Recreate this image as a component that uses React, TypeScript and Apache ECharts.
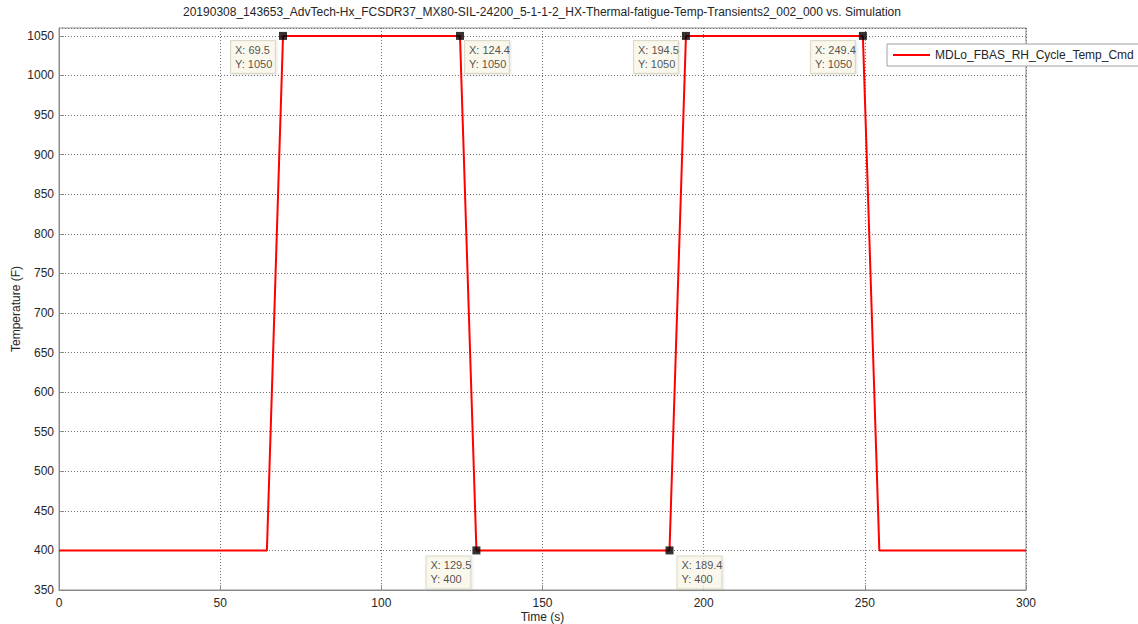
import React, { useEffect, useRef } from "react";
import * as echarts from "echarts";

// Commanded temperature profile (time in s, temperature in °F)
const timeValues = [0, 64.5, 69.5, 124.4, 129.5, 189.4, 194.5, 249.4, 254.5, 300];
const tempValues = [400, 400, 1050, 1050, 400, 400, 1050, 1050, 400, 400];

// Data cursor points
const tipX = [69.5, 124.4, 194.5, 249.4, 129.5, 189.4];
const tipY = [1050, 1050, 1050, 1050, 400, 400];

const seriesName = "MDLo_FBAS_RH_Cycle_Temp_Cmd";
const chartTitle =
  "20190308_143653_AdvTech-Hx_FCSDR37_MX80-SIL-24200_5-1-1-2_HX-Thermal-fatigue-Temp-Transients2_002_000 vs. Simulation";
const xTicks = { min: 0, max: 300, interval: 50 };
const yTicks = { min: 350, max: 1060, interval: 50 };

// label offset for each data cursor box, from the marker's box corner
const tipPlacement: [number, number][] = [
  [-48, 9],
  [9, 9],
  [-48, 9],
  [-48, 9],
  [-46, 10],
  [12, 10],
];

const FONT = "'Liberation Sans', Arial, Helvetica, sans-serif";

export default function App() {
  const ref = useRef<HTMLDivElement>(null);

  useEffect(() => {
    if (!ref.current) return;
    const chart = echarts.init(ref.current, undefined, { renderer: "svg" });

    const lineData = timeValues.map((t, i) => [t, tempValues[i]]);
    const tipData = tipX.map((x, i) => ({
      value: [x, tipY[i]],
      label: { position: tipPlacement[i] },
    }));

    const gridLine = { show: true, lineStyle: { color: "#707070", type: [1, 2] as number[], width: 1 } };

    chart.setOption({
      animation: false,
      backgroundColor: "#ffffff",
      textStyle: { fontFamily: FONT },
      title: {
        text: chartTitle,
        left: 542,
        top: 6,
        textAlign: "center",
        padding: 0,
        textStyle: { fontFamily: FONT, fontSize: 12, fontWeight: "normal", color: "#262626" },
      },
      legend: {
        data: [seriesName],
        left: 887,
        top: 44,
        width: 250,
        padding: [5, 7, 5, 6],
        backgroundColor: "#ffffff",
        borderColor: "#a0a0a0",
        borderWidth: 1,
        icon: "rect",
        itemWidth: 37,
        itemHeight: 2,
        itemGap: 5,
        textStyle: { fontFamily: FONT, fontSize: 12, color: "#262626" },
      },
      grid: {
        left: 59,
        right: 112,
        top: 28,
        bottom: 34,
        outerBoundsMode: "none",
        containLabel: false,
        show: true,
        borderColor: "#8c8c8c",
        borderWidth: 1,
        backgroundColor: "transparent",
      },
      xAxis: {
        type: "value",
        min: xTicks.min,
        max: xTicks.max,
        interval: xTicks.interval,
        name: "Time (s)",
        nameLocation: "middle",
        nameGap: 21,
        nameMoveOverlap: false,
        nameTextStyle: { fontFamily: FONT, fontSize: 12, color: "#262626" },
        axisLine: { show: true, lineStyle: { color: "#8c8c8c" } },
        axisTick: { show: true, inside: true, length: 5, lineStyle: { color: "#8c8c8c" } },
        axisLabel: {
          fontFamily: FONT,
          fontSize: 12,
          color: "#262626",
          margin: 7,
          formatter: (v: number) => String(v),
        },
        splitLine: gridLine,
      },
      yAxis: {
        type: "value",
        min: yTicks.min,
        max: yTicks.max,
        interval: yTicks.interval,
        name: "Temperature (F)",
        nameLocation: "middle",
        nameGap: 37,
        nameMoveOverlap: false,
        nameTextStyle: { fontFamily: FONT, fontSize: 12, color: "#262626" },
        axisLine: { show: true, lineStyle: { color: "#8c8c8c" } },
        axisTick: { show: true, inside: true, length: 5, lineStyle: { color: "#8c8c8c" } },
        axisLabel: {
          fontFamily: FONT,
          fontSize: 12,
          color: "#262626",
          margin: 5,
          showMaxLabel: false,
          formatter: (v: number) => String(v),
        },
        splitLine: gridLine,
      },
      series: [
        {
          name: seriesName,
          type: "line",
          data: lineData,
          showSymbol: false,
          symbol: "none",
          lineStyle: { color: "#ff0000", width: 2 },
          itemStyle: { color: "#ff0000" },
          z: 3,
        },
        {
          name: "cursor",
          type: "scatter",
          data: tipData,
          symbol: "rect",
          symbolSize: 8,
          itemStyle: { color: "#000000" },
          z: 5,
          label: {
            show: true,
            align: "left",
            verticalAlign: "top",
            width: 36,
            formatter: (p: any) => `X: ${p.value[0]}\nY: ${p.value[1]}`,
            fontFamily: FONT,
            fontSize: 11,
            lineHeight: 14,
            color: "#262626",
            backgroundColor: "#fbf9ec",
            borderColor: "#d6d2bd",
            borderWidth: 1,
            padding: [2, 4, 2, 4],
            shadowColor: "rgba(0,0,0,0.12)",
            shadowBlur: 2,
            shadowOffsetX: 1,
            shadowOffsetY: 1,
          },
        },
      ],
    });

    return () => chart.dispose();
  }, []);

  return (
    <div
      ref={ref}
      style={{ position: "fixed", left: 0, top: 0, width: 1138, height: 624 }}
    />
  );
}
